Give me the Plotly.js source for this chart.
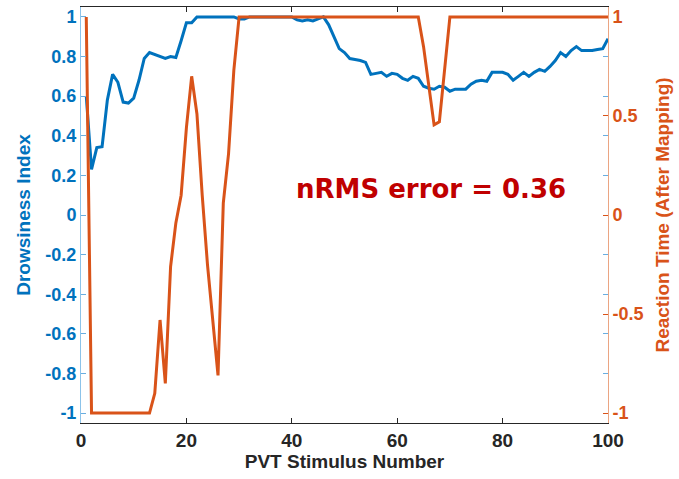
<!DOCTYPE html>
<html>
<head>
<meta charset="utf-8">
<script src="https://cdn.plot.ly/plotly-3.0.1.min.js"></script>
<style>html,body{margin:0;padding:0;background:#fff;}#chart{width:679px;height:479px;}</style>
</head>
<body>
<div id="chart"></div>
<script>
// Stimulus numbers
const stimulus = Array.from({length: 100}, (_, i) => i + 1);

// Drowsiness Index (left axis)
const drowsiness = [
  0.60, 0.23, 0.34, 0.345, 0.58, 0.71, 0.67, 0.57, 0.565, 0.59,
  0.68, 0.79, 0.82, 0.81, 0.80, 0.79, 0.80, 0.795, 0.88, 0.97,
  0.97, 1.00, 1.00, 1.00, 1.00, 1.00, 1.00, 1.00, 1.00, 0.99,
  0.99, 1.00, 1.00, 1.00, 1.00, 1.00, 1.00, 1.00, 1.00, 1.00,
  0.985, 0.98, 0.985, 0.98, 0.99, 1.00, 0.96, 0.90, 0.84, 0.82,
  0.79, 0.785, 0.78, 0.77, 0.71, 0.715, 0.72, 0.70, 0.715, 0.71,
  0.69, 0.68, 0.70, 0.69, 0.65, 0.64, 0.635, 0.65, 0.645, 0.625,
  0.635, 0.635, 0.635, 0.66, 0.675, 0.68, 0.675, 0.72, 0.72, 0.72,
  0.71, 0.68, 0.70, 0.72, 0.70, 0.72, 0.735, 0.725, 0.75, 0.78,
  0.82, 0.80, 0.83, 0.85, 0.83, 0.83, 0.83, 0.835, 0.84, 0.89
];

// Reaction Time after mapping (right axis)
const reaction = [
  1.00, -1.00, -1.00, -1.00, -1.00, -1.00, -1.00, -1.00, -1.00, -1.00,
  -1.00, -1.00, -1.00, -0.90, -0.53, -0.85, -0.26, -0.04, 0.10, 0.44,
  0.70, 0.51, 0.10, -0.25, -0.55, -0.81, 0.06, 0.31, 0.73, 1.00,
  1.00, 1.00, 1.00, 1.00, 1.00, 1.00, 1.00, 1.00, 1.00, 1.00,
  1.00, 1.00, 1.00, 1.00, 1.00, 1.00, 1.00, 1.00, 1.00, 1.00,
  1.00, 1.00, 1.00, 1.00, 1.00, 1.00, 1.00, 1.00, 1.00, 1.00,
  1.00, 1.00, 1.00, 1.00, 0.85, 0.66, 0.455, 0.47, 0.73, 1.00,
  1.00, 1.00, 1.00, 1.00, 1.00, 1.00, 1.00, 1.00, 1.00, 1.00,
  1.00, 1.00, 1.00, 1.00, 1.00, 1.00, 1.00, 1.00, 1.00, 1.00,
  1.00, 1.00, 1.00, 1.00, 1.00, 1.00, 1.00, 1.00, 1.00, 1.00
];

// Tick labels
const xTicks = [0, 20, 40, 60, 80, 100];
const leftTickVals = [-1, -0.8, -0.6, -0.4, -0.2, 0, 0.2, 0.4, 0.6, 0.8, 1];
const leftTickText = ['-1', '-0.8', '-0.6', '-0.4', '-0.2', '0', '0.2', '0.4', '0.6', '0.8', '1'];
const rightTickVals = [-1, -0.5, 0, 0.5, 1];
const rightTickText = ['-1', '-0.5', '0', '0.5', '1'];

const BLUE = '#0072BD';
const ORANGE = '#D95319';
const DARK = '#262626';
const FONT = 'Liberation Sans, Arial, sans-serif';

const traces = [
  {x: stimulus, y: drowsiness, type: 'scatter', mode: 'lines', yaxis: 'y',
   line: {color: BLUE, width: 3}, hoverinfo: 'skip'},
  {x: stimulus, y: reaction, type: 'scatter', mode: 'lines', yaxis: 'y2',
   line: {color: ORANGE, width: 3}, hoverinfo: 'skip'}
];

const layout = {
  width: 679, height: 479,
  margin: {l: 81, r: 71, t: 7, b: 56},
  showlegend: false,
  paper_bgcolor: '#fff', plot_bgcolor: '#fff',
  font: {family: FONT, weight: 'bold'},
  xaxis: {
    range: [0, 100], tickvals: xTicks, ticktext: xTicks.map(String),
    ticks: 'inside', ticklen: 5, tickcolor: DARK, tickwidth: 1,
    showline: true, linecolor: DARK, linewidth: 1, mirror: 'ticks',
    showgrid: false, zeroline: false,
    tickfont: {family: FONT, size: 19, color: DARK, weight: 'bold'},
    title: {text: 'PVT Stimulus Number', font: {family: FONT, size: 19, color: DARK, weight: 'bold'}, standoff: 2}
  },
  yaxis: {
    range: [-1.05, 1.05], tickvals: leftTickVals, ticktext: leftTickText,
    ticks: 'inside', ticklen: 5, tickcolor: '#6aaee0', tickwidth: 1,
    showline: true, linecolor: '#8cc3ea', linewidth: 1, mirror: 'ticks',
    showgrid: false, zeroline: false,
    tickfont: {family: FONT, size: 18, color: BLUE, weight: 'bold'},
    title: {text: 'Drowsiness Index', font: {family: FONT, size: 19, color: BLUE, weight: 'bold'}, standoff: 9}
  },
  yaxis2: {
    range: [-1.05, 1.05], tickvals: rightTickVals, ticktext: rightTickText,
    overlaying: 'y', side: 'right',
    ticks: 'inside', ticklen: 5, tickcolor: ORANGE, tickwidth: 1,
    showline: true, linecolor: '#eba582', linewidth: 1,
    showgrid: false, zeroline: false,
    tickfont: {family: FONT, size: 18, color: ORANGE, weight: 'bold'},
    title: {text: 'Reaction Time (After Mapping)', font: {family: FONT, size: 19, color: ORANGE, weight: 'bold'}, standoff: 13}
  },
  annotations: [{
    x: 66.5, y: 0.13, xref: 'x', yref: 'y',
    text: 'nRMS error = 0.36', showarrow: false,
    font: {family: 'DejaVu Sans, sans-serif', size: 26, color: '#C00000', weight: 'bold'}
  }]
};

Plotly.newPlot('chart', traces, layout, {staticPlot: true, displayModeBar: false});
</script>
</body>
</html>
